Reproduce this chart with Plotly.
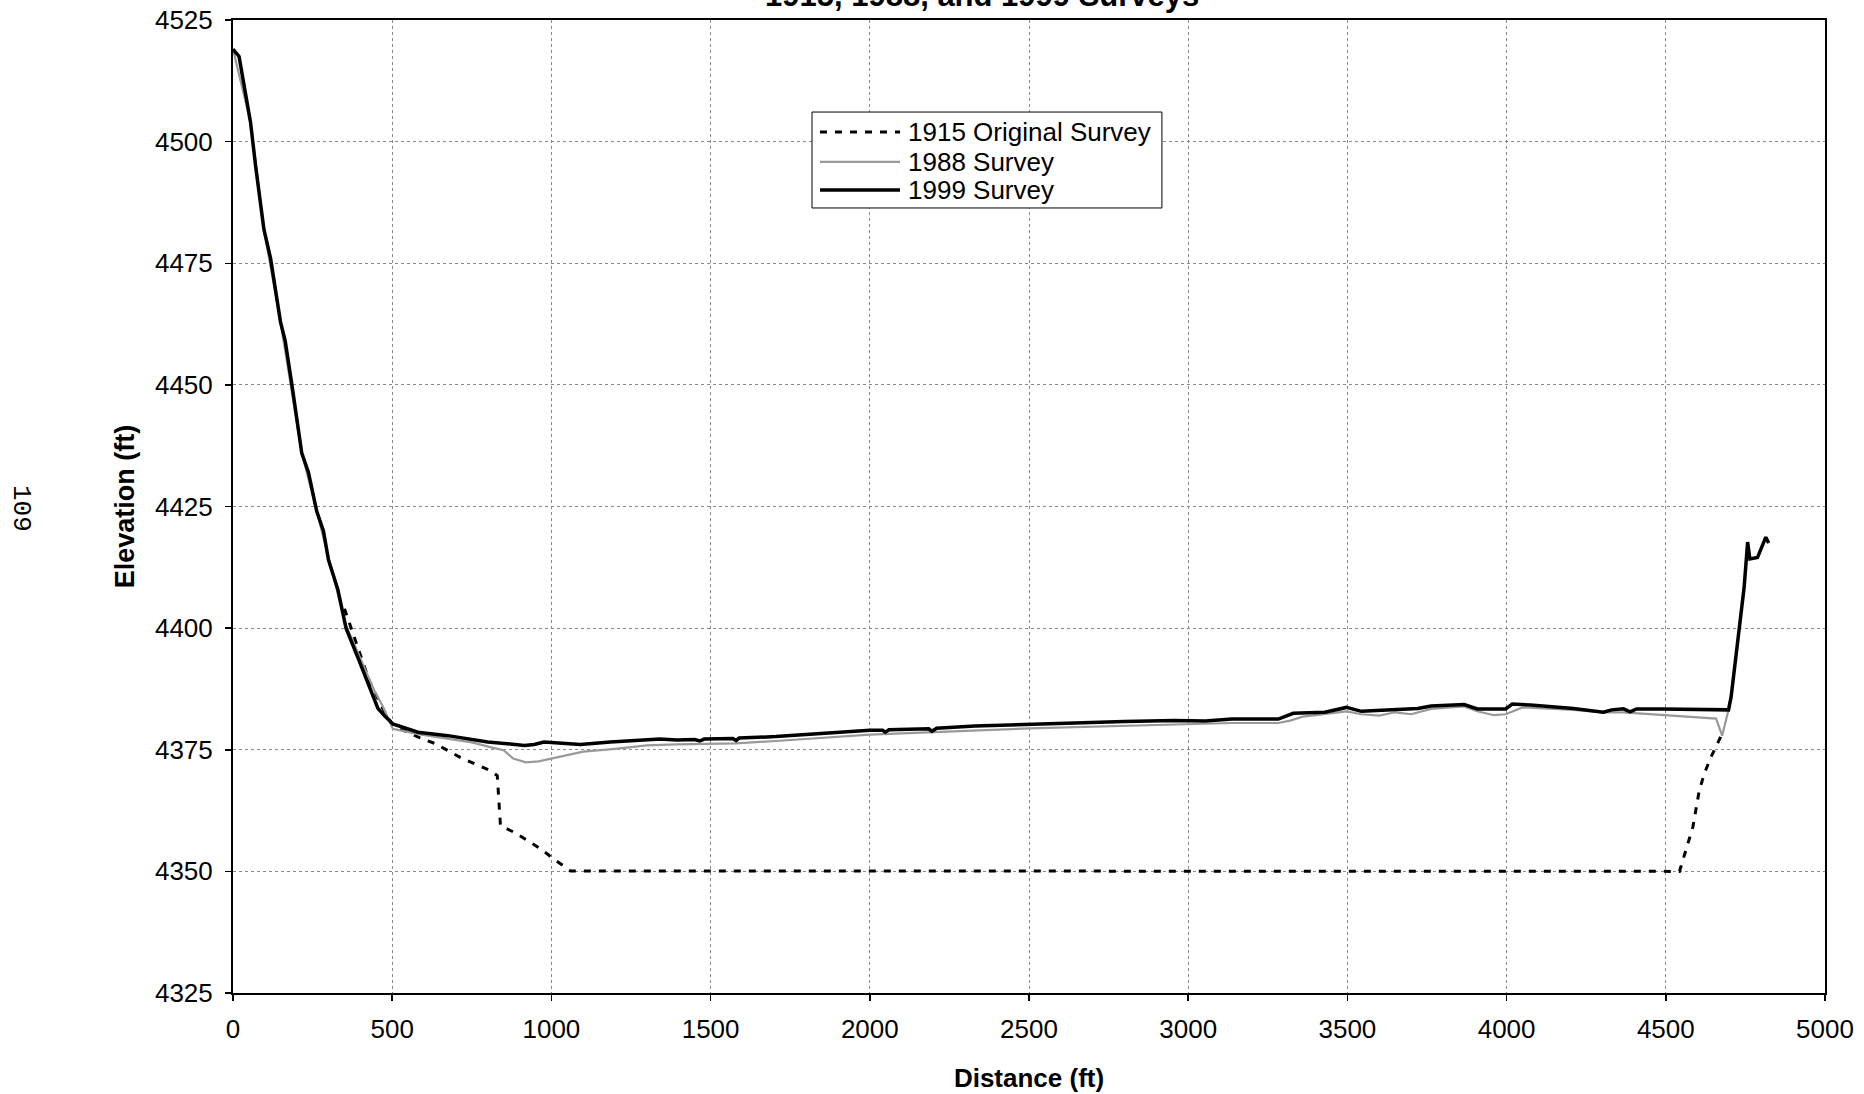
import plotly.graph_objects as go

# ---- data ----
x_1915 = [350, 392, 429, 470, 502, 592, 634, 717, 805, 830, 834, 840, 884, 967, 1008, 1060,
          4543, 4558, 4585, 4605, 4621, 4642, 4663, 4677]
y_1915 = [4404, 4396, 4389, 4383.5, 4380, 4377.3, 4376.3, 4373.3, 4370.8, 4369.7, 4366.3, 4359.4,
          4358.0, 4354.6, 4352.5, 4350.1, 4350, 4353.3, 4359.1, 4366.6, 4370.1, 4373.5, 4376.2, 4378.3]

x_1988 = [0, 55, 97, 149, 216, 263, 300, 355, 392, 445, 470, 502, 581, 675, 750, 811, 850, 880,
          920, 960, 1000, 1100, 1200, 1300, 1393, 1580, 1705, 2000, 2500, 2955, 3137, 3283, 3320,
          3360, 3429, 3497, 3544, 3600, 3650, 3700, 3763, 3867, 3908, 3960, 3997, 4050, 4210,
          4304, 4367, 4492, 4658, 4677, 4694, 4697]
y_1988 = [4519, 4504, 4482, 4463, 4436, 4424, 4414, 4400.5, 4395, 4387, 4384, 4379.3, 4378.2,
          4377.3, 4376.5, 4375.5, 4374.9, 4373.2, 4372.4, 4372.6, 4373.2, 4374.6, 4375.2, 4375.9,
          4376.1, 4376.3, 4376.8, 4378.1, 4379.4, 4380.2, 4380.5, 4380.5, 4381.0, 4381.8, 4382.3,
          4382.9, 4382.3, 4382.0, 4382.7, 4382.3, 4383.4, 4383.9, 4382.9, 4382.1, 4382.3, 4383.7,
          4383.2, 4382.7, 4382.7, 4382.1, 4381.4, 4377.9, 4382.4, 4383.2]

x_1999 = [0, 19, 55, 71, 97, 118, 149, 164, 185, 216, 237, 263, 284, 300, 329, 355, 392, 429, 455,
          476, 502, 581, 675, 800, 915, 946, 977, 1091, 1185, 1341, 1393, 1450, 1466, 1480, 1570,
          1580, 1590, 1705, 1861, 2000, 2040, 2049, 2060, 2122, 2185, 2195, 2210, 2330, 2500, 2643,
          2799, 2955, 3054, 3137, 3283, 3330, 3429, 3497, 3544, 3658, 3721, 3763, 3867, 3908, 3997,
          4018, 4075, 4210, 4260, 4304, 4330, 4367, 4388, 4408, 4492, 4697, 4705, 4741, 4746, 4757,
          4764, 4788, 4814, 4823]
y_1999 = [4519, 4517.5, 4504, 4495, 4482, 4476, 4463, 4459, 4450, 4436, 4432, 4424, 4420, 4414, 4408,
          4400, 4394, 4387.6, 4383.5, 4382, 4380.3, 4378.6, 4377.9, 4376.6, 4375.9, 4376.1, 4376.6,
          4376.1, 4376.6, 4377.2, 4377.0, 4377.1, 4376.8, 4377.2, 4377.3, 4376.9, 4377.4, 4377.7,
          4378.4, 4379.0, 4379.0, 4378.6, 4379.1, 4379.2, 4379.3, 4378.8, 4379.4, 4379.9, 4380.3,
          4380.5, 4380.8, 4381.0, 4380.9, 4381.3, 4381.3, 4382.5, 4382.7, 4383.7, 4382.9, 4383.2,
          4383.5, 4384.0, 4384.3, 4383.4, 4383.4, 4384.4, 4384.2, 4383.5, 4383.0, 4382.7, 4383.2,
          4383.4, 4382.8, 4383.4, 4383.4, 4383.2, 4385.8, 4407, 4408.4, 4417.7, 4414.2, 4414.5,
          4418.7, 4417.5]

series_names = ["1915 Original Survey", "1988 Survey", "1999 Survey"]
x_ticks = [0, 500, 1000, 1500, 2000, 2500, 3000, 3500, 4000, 4500, 5000]
y_ticks = [4325, 4350, 4375, 4400, 4425, 4450, 4475, 4500, 4525]

title_text = "1915, 1988, and 1999 Surveys"
page_number = "109"

FONT = "Liberation Sans, Arial, sans-serif"

# styles per series
styles = [
    dict(color="black", width=3, dash="7px,8px"),
    dict(color="#999999", width=2.2, dash="solid"),
    dict(color="black", width=3.5, dash="solid"),
]

fig = go.Figure()
for xs, ys, nm, st in zip([x_1915, x_1988, x_1999], [y_1915, y_1988, y_1999], series_names, styles):
    fig.add_trace(go.Scatter(x=xs, y=ys, mode="lines", name=nm, line=st, showlegend=False,
                             hoverinfo="skip"))

axis_common = dict(
    showline=True, linecolor="black", linewidth=2, mirror=True,
    ticks="outside", ticklen=6, tickwidth=1.5, tickcolor="black",
    showgrid=True, gridcolor="#8a8a8a", gridwidth=1, griddash="dot",
    zeroline=False, automargin=False,
    tickfont=dict(family=FONT, size=26, color="black"),
)

fig.update_xaxes(range=[0, 5000], tickvals=x_ticks, ticktext=[str(v) for v in x_ticks],
                 ticklabelstandoff=6,
                 title=dict(text="<b>Distance (ft)</b>", font=dict(family=FONT, size=26, color="black"),
                            standoff=26),
                 **axis_common)
fig.update_yaxes(range=[4325, 4525], tickvals=y_ticks, ticktext=[str(v) for v in y_ticks],
                 ticklabelstandoff=7,
                 title=dict(text="<b>Elevation (ft)</b>", font=dict(family=FONT, size=27, color="black"),
                            standoff=13),
                 **axis_common)

# ---- manual legend box (paper coordinates) ----
lg_x0, lg_x1, lg_y0, lg_y1 = 0.3637, 0.5835, 0.8068, 0.9054
row_y = [0.8849, 0.8541, 0.8253]
line_x0, line_x1, text_x = 0.3687, 0.4190, 0.4227

shapes = [dict(type="rect", xref="paper", yref="paper", x0=lg_x0, x1=lg_x1, y0=lg_y0, y1=lg_y1,
               line=dict(color="black", width=1), fillcolor="white", layer="above")]
annotations = []
for nm, st, ry in zip(series_names, styles, row_y):
    shapes.append(dict(type="line", xref="paper", yref="paper", x0=line_x0, x1=line_x1, y0=ry, y1=ry,
                       line=dict(color=st["color"], width=st["width"], dash=st["dash"]), layer="above"))
    annotations.append(dict(text=nm, xref="paper", yref="paper", x=text_x, y=ry,
                            xanchor="left", yanchor="middle", showarrow=False,
                            font=dict(family=FONT, size=26, color="black")))

annotations.append(dict(text="<b>" + title_text + "</b>", xref="paper", yref="paper",
                        x=0.4705, y=1.0051, xanchor="center", yanchor="bottom",
                        showarrow=False, font=dict(family=FONT, size=31, color="black")))
annotations.append(dict(text=page_number, xref="paper", yref="paper",
                        x=(21 - 233) / 1592, y=(993 - 508) / 973, xanchor="center", yanchor="middle",
                        textangle=90, showarrow=False,
                        font=dict(family="Liberation Mono, DejaVu Sans Mono, monospace", size=26,
                                  color="black")))

fig.update_layout(
    width=1864, height=1094,
    margin=dict(l=233, r=39, t=20, b=101, autoexpand=False),
    paper_bgcolor="white", plot_bgcolor="white",
    font=dict(family=FONT, color="black"),
    showlegend=False,
    hovermode=False,
    shapes=shapes,
    annotations=annotations,
)

fig.write_html("out.html", config={"displayModeBar": False, "staticPlot": True},
               post_script="document.body.style.margin='0px';")
